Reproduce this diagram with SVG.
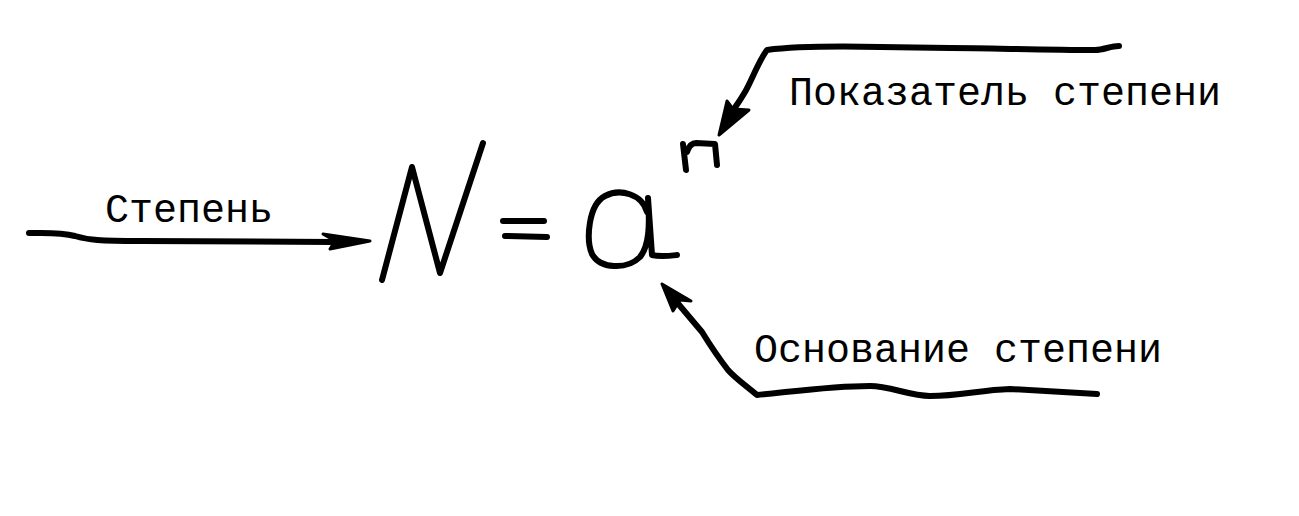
<svg xmlns="http://www.w3.org/2000/svg" width="1299" height="516" viewBox="0 0 1299 516">
<style>
.ink{fill:none;stroke:#000;stroke-width:6;stroke-linecap:round;stroke-linejoin:round}
.head{fill:#000;stroke:#000;stroke-width:3;stroke-linejoin:round}
.lbl{font-family:"Liberation Mono","DejaVu Sans Mono",monospace;font-size:40px;fill:#000}
</style>
<rect width="1299" height="516" fill="#fff"/>
<g id="formula">
<g id="N"><path class="ink" d="M382,280 L412,167 L440,273 L483,143"/></g>
<g id="eq"><path class="ink" d="M503,221 L544,221 M505,236 L547,237"/></g>
<g id="a"><path class="ink" d="M647,212 C642,194 620,188 605,196 C588,205 586,240 592,254 C600,269 627,270 640,257 C649,246 650,226 648,198 L652,255 C660,257 668,256 677,255"/></g>
<g id="n"><path class="ink" d="M683,144 L686,170 M687,152 C689,146 692,143 696,143 L715,144 L717,165"/></g>
</g>
<g id="labels">
<text class="lbl" x="105" y="222">Степень</text>
<text class="lbl" x="789" y="105">Показатель степени</text>
<text class="lbl" x="754" y="362">Основание степени</text>
</g>
<g id="connectors">
<path class="ink" d="M29,233 C45,233 60,232 75,236 C88,240 100,241 140,241 L333,242 L355,241"/>
<polygon class="head" points="323,234 370,241 330,249 335,241"/>
<path class="ink" d="M1119,46 C1110,46 1104,50 1095,50 C1040,50 990,48 950,48 L880,47 C830,46 790,47 767,50 C758,62 752,80 745,92 C738,104 733,110 728,118"/>
<polygon class="head" points="719,135 727,101 733,109 749,110"/>
<path class="ink" d="M1097,394 L1010,389 C980,390 960,396 930,396 C910,396 890,386 870,386 C830,386 790,392 757,395 C745,385 735,378 728,370 C718,357 710,345 702,332 L675,300"/>
<polygon class="head" points="662,284 691,301 680,300 673,311"/>
</g>
</svg>
